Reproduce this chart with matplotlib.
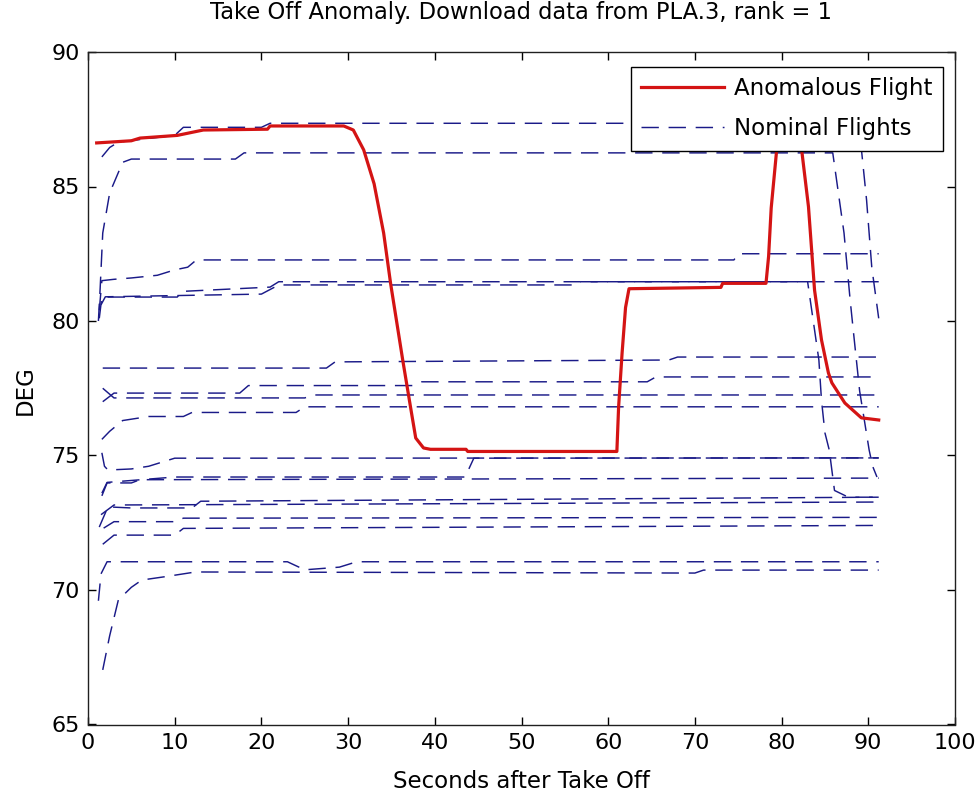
import matplotlib
matplotlib.use("Agg")
import matplotlib.pyplot as plt

plt.rcParams['font.family'] = ['DejaVu Sans']
plt.rcParams['lines.scale_dashes'] = False

# ---------------- data ----------------
title = "Take Off Anomaly. Download data from PLA.3, rank = 1"
x_label = "Seconds after Take Off"
y_label = "DEG"
x_ticks = [0, 10, 20, 30, 40, 50, 60, 70, 80, 90, 100]
y_ticks = [65, 70, 75, 80, 85, 90]

anom_t = [1.0, 5, 6, 10.3, 13.3, 20.7, 21, 29.5, 30.6, 31.8, 33, 34.1, 34.9, 36.3, 37.2, 37.8, 38.7,
          39.5, 43.6, 43.8, 61.0, 61.2, 61.6, 62.0, 62.4, 73, 73.2, 78.2, 78.5, 78.8, 79.4, 80.6,
          81.8, 82.3, 83.1, 83.8, 84.6, 85.4, 85.8, 87.3, 89.2, 91.2]
anom_v = [86.62, 86.7, 86.8, 86.9, 87.1, 87.13, 87.25, 87.25, 87.1, 86.36, 85.1, 83.27, 81.4, 78.55,
          76.8, 75.65, 75.28, 75.23, 75.23, 75.15, 75.15, 76.8, 78.8, 80.5, 81.2, 81.25, 81.4, 81.4,
          82.4, 84.2, 86.25, 88.3, 87.5, 86.4, 84.25, 81.15, 79.3, 78.07, 77.7, 76.95, 76.4, 76.32]

nomA_t = [1.6, 2.5, 3.5, 10, 11, 20, 21, 88.8, 89.2, 89.8, 90.4, 91.2]
nomA_v = [86.1, 86.45, 86.65, 86.9, 87.2, 87.2, 87.35, 87.35, 86.4, 84.5, 82.0, 80.1]
nomB_t = [1.2, 1.4, 1.7, 2.5, 4.0, 5, 17, 18, 85.9, 87.2, 87.9, 88.3, 89.0, 89.5, 90.1, 90.5, 91.0]
nomB_v = [80.0, 81.2, 83.27, 84.76, 85.9, 86.02, 86.02, 86.25, 86.25, 83.27, 80.8, 79.55, 77.4,
          76.4, 75.2, 74.6, 74.2]
nomC_t = [1.3, 1.6, 3, 5, 8, 10, 11.5, 12.5, 74.5, 75, 91.2]
nomC_v = [80.4, 81.5, 81.55, 81.6, 81.7, 81.9, 82.0, 82.27, 82.27, 82.5, 82.5]
nomD_t = [1.3, 1.6, 10.3, 10.8, 21, 22, 91.2]
nomD_v = [80.1, 80.89, 80.89, 81.1, 81.26, 81.46, 81.46]
nomD2_t = [1.5, 2, 20, 22, 56, 56.5, 83.0, 84.3, 84.6, 85.0, 85.5, 86.1, 87.7, 91.0]
nomD2_v = [80.6, 80.9, 81.0, 81.34, 81.34, 81.46, 81.46, 78.55, 77.06, 75.84, 75.2, 73.7, 73.45, 73.45]
nomE_t = [1.7, 27.5, 28.5, 67, 68, 91.2]
nomE_v = [78.25, 78.25, 78.48, 78.55, 78.66, 78.66]
nomF_t = [1.7, 3, 17.5, 18.5, 37.5, 38.5, 64.5, 65.5, 91.2]
nomF_v = [77.0, 77.32, 77.32, 77.6, 77.6, 77.74, 77.74, 77.92, 77.92]
nomG_t = [1.7, 3, 25, 26, 91.2]
nomG_v = [77.5, 77.14, 77.14, 77.25, 77.25]
nomH_t = [1.6, 2.5, 4, 6, 7, 11, 12, 24, 25, 91.2]
nomH_v = [75.6, 75.9, 76.3, 76.4, 76.45, 76.45, 76.6, 76.6, 76.81, 76.81]
nomI_t = [1.6, 1.9, 2.3, 5, 7, 9, 10, 91.2]
nomI_v = [75.1, 74.6, 74.46, 74.5, 74.6, 74.8, 74.9, 74.91]
nomI2_t = [1.6, 2.2, 10, 43.5, 44.5, 91.2]
nomI2_v = [73.6, 74.0, 74.2, 74.2, 74.9, 74.91]
nomJ_t = [1.6, 2.2, 5, 6, 91.2]
nomJ_v = [73.5, 73.98, 73.98, 74.1, 74.16]
nomK_t = [1.3, 2.3, 5, 12, 13, 91.2]
nomK_v = [72.34, 73.09, 73.05, 73.05, 73.3, 73.45]
nomK2_t = [1.5, 3, 91.2]
nomK2_v = [72.8, 73.16, 73.27]
nomL_t = [1.8, 3, 10, 11, 91.2]
nomL_v = [72.3, 72.54, 72.54, 72.67, 72.7]
nomM_t = [1.7, 3, 10, 11, 91.2]
nomM_v = [71.7, 72.04, 72.04, 72.29, 72.4]
nomN_t = [1.2, 1.5, 2.2, 23, 25, 29, 31, 91.2]
nomN_v = [69.6, 70.6, 71.05, 71.05, 70.75, 70.85, 71.05, 71.05]
nomO_t = [1.7, 2.5, 3.5, 5, 6.2, 9, 12.4, 70, 71, 91.2]
nomO_v = [67.03, 68.3, 69.63, 70.1, 70.37, 70.5, 70.67, 70.63, 70.74, 70.74]

nominal = [(nomA_t, nomA_v), (nomB_t, nomB_v), (nomC_t, nomC_v), (nomD_t, nomD_v),
           (nomD2_t, nomD2_v), (nomE_t, nomE_v), (nomF_t, nomF_v), (nomG_t, nomG_v),
           (nomH_t, nomH_v), (nomI_t, nomI_v), (nomI2_t, nomI2_v), (nomJ_t, nomJ_v),
           (nomK_t, nomK_v), (nomK2_t, nomK2_v), (nomL_t, nomL_v), (nomM_t, nomM_v),
           (nomN_t, nomN_v), (nomO_t, nomO_v)]

# ---------------- figure ----------------
W, H = 978, 797
fig = plt.figure(figsize=(W / 100, H / 100), dpi=100)
ax = fig.add_axes([88 / W, 1 - 724.5 / H, 867 / W, 672.5 / H])

blue = '#1a1a88'
red = '#d41414'
dash = (0, (12.5, 7.0))

first = True
for t, v in nominal:
    ax.plot(t, v, color=blue, linewidth=1.05, linestyle=dash,
            label='Nominal Flights' if first else None, zorder=2)
    first = False
ax.plot(anom_t, anom_v, color=red, linewidth=2.3, label='Anomalous Flight', zorder=3)

ax.set_xlim(0, 100)
ax.set_ylim(65, 90)
ax.set_xticks(x_ticks)
ax.set_yticks(y_ticks)
ax.tick_params(direction='in', length=6, width=1, top=True, right=True,
               labelsize=16, pad=6, colors='black')
for s in ax.spines.values():
    s.set_linewidth(1.0)
    s.set_color('#202020')

handles, labels = ax.get_legend_handles_labels()
order = [labels.index('Anomalous Flight'), labels.index('Nominal Flights')]
leg = ax.legend([handles[i] for i in order], [labels[i] for i in order],
                loc='upper right', bbox_to_anchor=(0.986, 0.978), borderaxespad=0,
                fancybox=False, framealpha=1, edgecolor='black', fontsize=16.5,
                handlelength=3.6, handletextpad=0.45, borderpad=0.45, labelspacing=0.75)
leg.get_frame().set_linewidth(1.0)

fig.text((88 + 955) / 2 / W, 1 - 13 / H, title, ha='center', va='center', fontsize=16.3)
fig.text((88 + 955) / 2 / W, 1 - 782 / H, x_label, ha='center', va='center', fontsize=16.5)
fig.text(25 / W, 1 - 390 / H, y_label, ha='center', va='center', fontsize=16.5, rotation=90)

fig.savefig('out.png', dpi=100, facecolor='white')
